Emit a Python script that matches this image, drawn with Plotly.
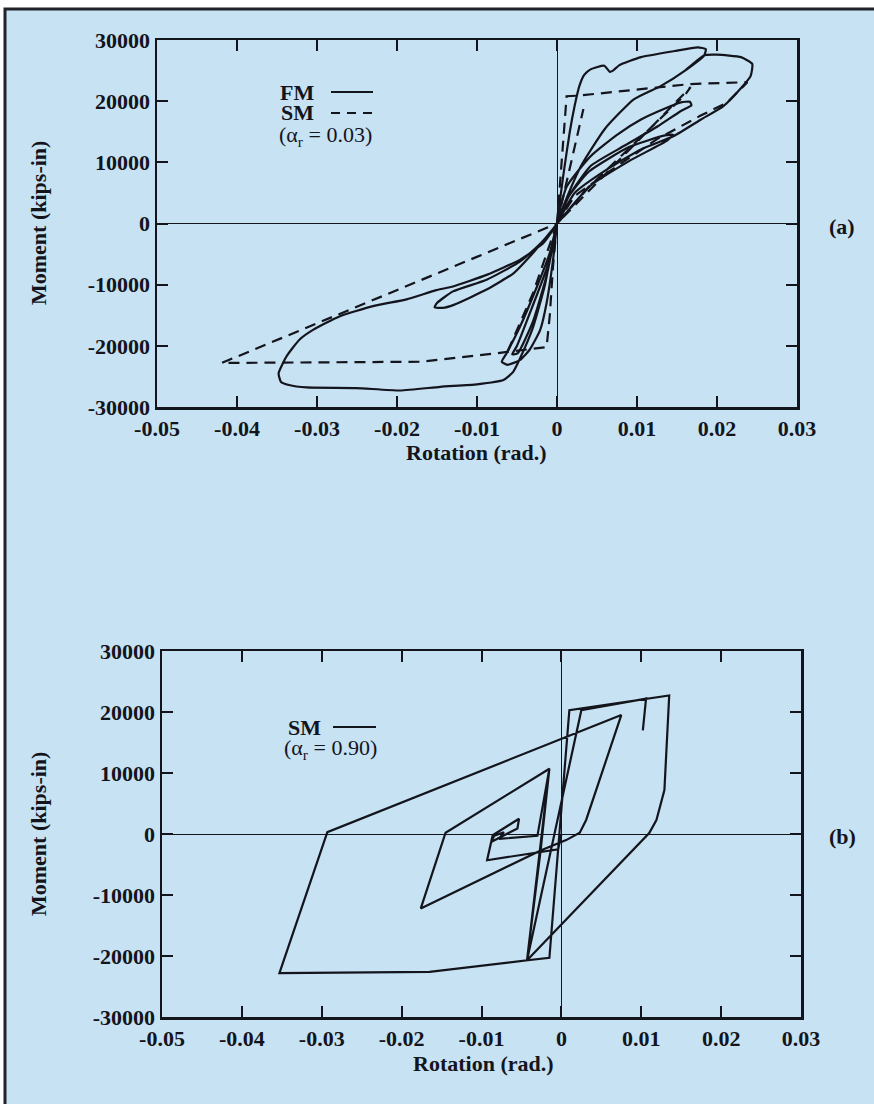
import plotly.graph_objects as go

# full-page figure; the page's default body margin is removed after plotting
W, H = 874, 1104
OFF = 0

# ---------------- data ----------------
x_tickvals = [-0.05, -0.04, -0.03, -0.02, -0.01, 0, 0.01, 0.02, 0.03]
x_ticktext = ["-0.05", "-0.04", "-0.03", "-0.02", "-0.01", "0", "0.01", "0.02", "0.03"]
y_tickvals = [30000, 20000, 10000, 0, -10000, -20000, -30000]
y_ticktext = ["30000", "20000", "10000", "0", "-10000", "-20000", "-30000"]

# (a) FM, full model (solid)
fm_rot = [0,
          -0.0020, -0.0046, -0.0088, -0.0130, -0.0150, -0.0153, -0.0143, -0.0129, -0.0088, -0.0054, -0.0034, -0.0012, 0,
          0.0015, 0.0040, 0.0090, 0.0135, 0.0145, 0.0138, 0.0090, 0.0040, 0.0010, 0,
          0.0012, 0.0042, 0.0075, 0.0105, 0.0135, 0.0155, 0.0166, 0.0168, 0.0155, 0.0126, 0.0084, 0.0042, 0.0015, 0,
          -0.0012, -0.0032, -0.0050, -0.0056, -0.0049, -0.0030, -0.0012, 0,
          -0.0009, -0.0025, -0.0046, -0.0063, -0.0069, -0.0062, -0.0046, -0.0034, -0.0021, -0.0013, -0.0005, 0,
          0.0008, 0.0016, 0.0022, 0.0028, 0.0034, 0.0042, 0.0059, 0.0066, 0.0070, 0.0078, 0.0105, 0.0147, 0.0176, 0.0186, 0.0184,
          0.0160, 0.0130, 0.0096, 0.0060, 0.0030, 0.0010, 0,
          -0.0017, -0.0046, -0.0088, -0.0130, -0.0151, -0.0188, -0.0230, -0.0272, -0.0305, -0.0322, -0.0338, -0.0348, -0.0345,
          -0.0335, -0.0313, -0.0251, -0.0196, -0.0146, -0.0100, -0.0067, -0.0055, -0.0046, -0.0030, -0.0015, 0,
          0.0010, 0.0030, 0.0060, 0.0096, 0.0130, 0.0160, 0.0184, 0.0200, 0.0230, 0.0244, 0.0242, 0.0229, 0.0208, 0.0180,
          0.0146, 0.0105, 0.0063, 0.0022, 0]
fm_mom = [0,
          -3200, -6200, -9200, -11100, -13000, -13700, -13800, -13300, -10800, -8100, -5400, -2000, 0,
          4500, 8500, 12500, 14400, 14500, 13600, 10200, 6000, 1500, 0,
          6000, 11000, 14500, 17000, 18800, 19800, 19900, 19300, 18400, 15900, 12700, 9400, 4500, 0,
          -7000, -14000, -20000, -21400, -21200, -16000, -8000, 0,
          -4800, -10300, -16800, -21200, -22600, -23100, -22300, -20600, -17400, -13000, -6000, 0,
          8000, 15000, 19200, 22500, 24300, 25200, 25800, 24800, 25000, 25900, 27200, 28200, 28800, 28500, 27500,
          25000, 22500, 20300, 15500, 9400, 3500, 0,
          -3200, -5900, -8400, -10300, -10900, -12400, -13500, -15200, -17400, -19000, -21700, -24500, -25900,
          -26400, -26800, -26900, -27300, -26700, -26300, -25600, -24300, -22000, -17000, -10000, 0,
          3500, 9400, 15500, 20300, 22500, 25000, 27500, 27600, 27200, 26100, 24100, 22000, 19200, 17000,
          14300, 12100, 8900, 5000, 0]

# (a) SM, alpha_r = 0.03 (dashed)
sm03_rot = [0, 0.0012, 0.0026, 0.0063, 0.0113, 0.0167, 0.0238, 0.0213, 0.0179, 0.0125, 0.0063, 0.0022, 0,
            0.0167, 0.0160, 0.0100, 0.0040, 0, None,
            0, 0.0033, None,
            0, -0.0005, -0.0009, -0.0013, -0.0075, -0.0171, -0.0419, 0, None,
            0, -0.0030, -0.0062]
sm03_mom = [0, 20800, 20900, 21400, 22000, 22800, 23100, 19800, 17600, 13800, 8300, 4500, 0,
            22300, 21000, 13500, 6000, 0, None,
            0, 18700, None,
            0, -7000, -15000, -20200, -21200, -22600, -22800, 0, None,
            0, -11400, -21000]

# (b) SM, alpha_r = 0.90 (solid)
sm90_rot = [0, -0.0004, -0.0093, -0.0086, -0.0053, -0.0055, -0.0088, -0.0084, -0.0072, -0.0078, -0.0030,
            -0.0015, -0.0026, -0.0176, -0.0145, -0.0015, -0.0043, -0.0165, -0.0353, -0.0293, 0.0075,
            0.0031, 0.0023, 0.0006, -0.0026, -0.0043, -0.0015, 0.0010, 0.0135, 0.0129, 0.0119, 0.0110,
            -0.0043, 0.0025, 0.0106, 0.0102]
sm90_mom = [0, -2500, -4300, -200, 2500, 900, -1300, -300, 300, -800, -300,
            10700, -2700, -12200, 200, 10700, -20700, -22600, -22800, 300, 19500,
            2300, 200, -1000, -2700, -20700, -20300, 20300, 22700, 7200, 2300, 160,
            -20700, 20300, 22200, 17000]

# ---------------- styling ----------------
INK = "#14141c"
BLUE = "#c6e2f3"
SERIF = "Liberation Serif"


def px_x(p):
    """page pixel -> figure paper fraction"""
    return (p - OFF) / W


def px_y(p):
    return 1 - (p - OFF) / H


fig = go.Figure()
fig.add_trace(go.Scatter(x=fm_rot, y=fm_mom, mode="lines", xaxis="x", yaxis="y",
                         line=dict(color=INK, width=2.2, shape="spline", smoothing=0.5),
                         showlegend=False, hoverinfo="skip"))
fig.add_trace(go.Scatter(x=sm03_rot, y=sm03_mom, mode="lines", xaxis="x", yaxis="y",
                         line=dict(color=INK, width=2.2, dash="11px,7px"),
                         connectgaps=False, showlegend=False, hoverinfo="skip"))
fig.add_trace(go.Scatter(x=sm90_rot, y=sm90_mom, mode="lines", xaxis="x2", yaxis="y2",
                         line=dict(color=INK, width=2.2),
                         showlegend=False, hoverinfo="skip"))

tickfont = dict(family=SERIF, size=22, color=INK, weight="bold")


def xax(domain, anchor):
    return dict(domain=domain, anchor=anchor, range=[-0.05, 0.03], tickvals=x_tickvals, ticktext=x_ticktext,
                ticks="inside", ticklen=11, tickwidth=2, tickcolor=INK, showline=True, linewidth=2.5,
                linecolor=INK, mirror="ticks", showgrid=False, zeroline=True, zerolinecolor=INK,
                zerolinewidth=1, tickfont=tickfont, fixedrange=True, automargin=False)


def yax(domain, anchor):
    return dict(domain=domain, anchor=anchor, range=[-30000, 30000], tickvals=y_tickvals, ticktext=y_ticktext,
                ticks="inside", ticklen=11, tickwidth=2, tickcolor=INK, showline=True, linewidth=2.5,
                linecolor=INK, mirror="ticks", showgrid=False, zeroline=True, zerolinecolor=INK,
                zerolinewidth=1, tickfont=tickfont, fixedrange=True, automargin=False)


fig.update_layout(
    width=W, height=H, margin=dict(l=0, r=0, t=0, b=0, pad=0), autosize=False,
    paper_bgcolor="white", plot_bgcolor="rgba(0,0,0,0)",
    xaxis=xax([px_x(157), px_x(797)], "y"),
    yaxis=yax([px_y(407), px_y(40)], "x"),
    xaxis2=xax([px_x(162), px_x(801)], "y2"),
    yaxis2=yax([px_y(1017), px_y(651)], "x2"),
)

shapes = [dict(type="rect", xref="paper", yref="paper", x0=px_x(5), x1=px_x(890), y0=px_y(1120), y1=px_y(9),
               fillcolor=BLUE, line=dict(color="#22222a", width=3), layer="below")]
# legend samples
shapes.append(dict(type="line", xref="paper", yref="paper", x0=px_x(331), x1=px_x(373), y0=px_y(92), y1=px_y(92),
                   line=dict(color=INK, width=2)))
shapes.append(dict(type="line", xref="paper", yref="paper", x0=px_x(331), x1=px_x(373), y0=px_y(113), y1=px_y(113),
                   line=dict(color=INK, width=2, dash="9px,7px")))
shapes.append(dict(type="line", xref="paper", yref="paper", x0=px_x(333), x1=px_x(376), y0=px_y(727), y1=px_y(727),
                   line=dict(color=INK, width=2)))
fig.update_layout(shapes=shapes)

titlefont = dict(family=SERIF, size=22, color=INK, weight="bold")
plainfont = dict(family=SERIF, size=22, color=INK)
ann = []


def add(text, x, y, font, angle=0, xanchor="center"):
    ann.append(dict(text=text, x=px_x(x), y=px_y(y), xref="paper", yref="paper", showarrow=False,
                    font=font, textangle=angle, xanchor=xanchor, yanchor="middle"))


add("Rotation (rad.)", 477, 452, titlefont)
add("Rotation (rad.)", 483, 1063, titlefont)
add("Moment (kips-in)", 38, 223, titlefont, angle=-90)
add("Moment (kips-in)", 38, 834, titlefont, angle=-90)
add("(a)", 842, 226, titlefont)
add("(b)", 842, 836, titlefont)
add("FM", 297, 92, titlefont)
add("SM", 297, 113, titlefont)
add("(α<sub>r</sub> = 0.03)", 325, 136, plainfont)
add("SM", 304, 727, titlefont)
add("(α<sub>r</sub> = 0.90)", 330, 749, plainfont)
fig.update_layout(annotations=ann)

fig.write_html("out.html", config={"displayModeBar": False, "staticPlot": True},
               post_script="document.body.style.margin='0px';document.body.style.overflow='hidden';")
